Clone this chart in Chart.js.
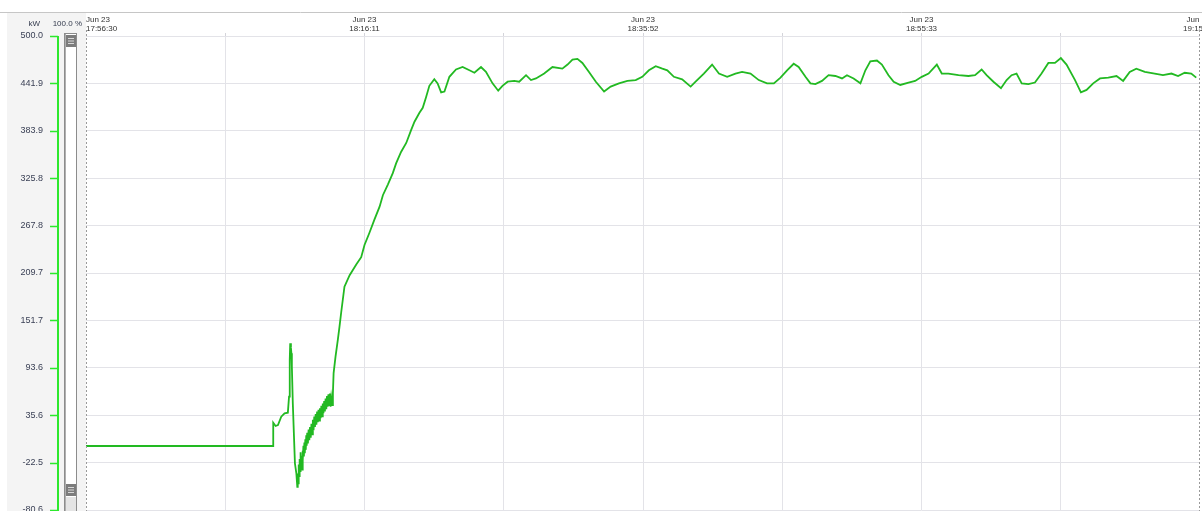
<!DOCTYPE html>
<html>
<head>
<meta charset="utf-8">
<script src="https://cdn.jsdelivr.net/npm/chart.js@4/dist/chart.umd.min.js"></script>
<style>
  html, body { margin: 0; padding: 0; background: #ffffff; overflow: hidden; }
  #wrap { position: relative; width: 1202px; height: 511px; }
</style>
</head>
<body>
<div id="wrap"><canvas id="c" width="1202" height="511"></canvas></div>
<script>
// ---- data (seconds elapsed since Jun 23 17:56:30, power in kW) ----
const elapsedSec = [
  0, 793, 794, 804, 814, 828, 842, 856, 861, 864, 866, 869, 871, 873, 877, 882, 886, 892, 896,
  898, 900, 902, 904, 906, 908, 910, 912, 914, 916, 918, 920, 922, 924, 926, 928, 930, 932, 934, 936, 938,
  941, 944, 947, 950, 953, 956, 959, 962, 965, 968, 971, 974, 977, 980, 983, 986, 989, 992, 995, 998,
  1001, 1004, 1007, 1010, 1013, 1016, 1019, 1022, 1025, 1028, 1031, 1034, 1037, 1040, 1044, 1047,
  1050, 1058, 1068, 1075, 1082, 1096, 1118, 1146, 1167, 1181, 1202, 1223, 1245, 1259, 1280, 1301, 1315,
  1336, 1358, 1379, 1393, 1414, 1428, 1442, 1456, 1477, 1491, 1506, 1520, 1541, 1569, 1597, 1626, 1647,
  1675, 1696, 1724, 1748, 1766, 1788, 1816, 1837, 1866, 1887, 1908, 1943, 1978, 2020, 2042, 2063, 2084,
  2105, 2133, 2162, 2197, 2225, 2260, 2296, 2331, 2359, 2387, 2416, 2444, 2465, 2493, 2528, 2564, 2585,
  2620, 2655, 2684, 2719, 2754, 2782, 2818, 2853, 2888, 2917, 2945, 2973, 3001, 3022, 3051, 3072, 3093,
  3121, 3149, 3178, 3206, 3227, 3255, 3284, 3305, 3326, 3354, 3375, 3403, 3425, 3453, 3488, 3516, 3544,
  3573, 3608, 3629, 3657, 3700, 3742, 3770, 3798, 3819, 3848, 3880, 3904, 3925, 3946, 3968, 3996, 4024,
  4052, 4081, 4109, 4134, 4158, 4194, 4219, 4243, 4271, 4300, 4335, 4370, 4398, 4426, 4454, 4490, 4532,
  4567, 4603, 4631, 4659, 4687, 4708
];
const powerKW = [
  -2.2, -2.2, 26.3, 22.3, 23.5, 33.7, 37.8, 38.6, 58.2, 103.1, 123.6, 118, 111.3, 94.9, 50.1, 9.2, -23.4, -35.6, -52.1,
  -36, -48, -25, -39, -18, -33, -10, -27, -14, -31, -8, -20, -2, -15, 2, -11, 6, -7, 11, -2, 14,
  1, 18, 5, 21, 8, 25, 12, 30, 17, 34, 21, 37, 24, 40, 27, 42, 29, 44, 32, 47,
  34, 50, 38, 53, 40, 56, 43, 59, 46, 61, 48, 62, 46, 57, 48, 62,
  87, 107, 128, 144, 161, 193, 207, 220, 229, 244, 259, 275, 291, 305, 318, 332, 344,
  358, 369, 385, 395, 406, 412, 425, 439, 447, 442, 431, 432, 450, 459, 462, 458, 455,
  462, 456, 442, 433, 439, 444, 445, 444, 452, 446, 448, 454, 462, 460, 465, 471, 472,
  467, 456, 444, 432, 438, 442, 445, 446, 450, 458, 463, 460, 458, 450, 447, 438, 444,
  454, 465, 454, 450, 454, 456, 454, 446, 442, 442, 449, 458, 466, 462, 450, 442, 441,
  445, 452, 451, 448, 452, 448, 442, 458, 469, 470, 465, 452, 444, 440, 443, 445, 450,
  454, 465, 454, 454, 452, 451, 452, 459, 452, 444, 436, 446, 452, 454, 442, 441, 443,
  454, 467, 467, 473, 465, 446, 431, 434, 442, 448, 449, 451, 445, 456, 460, 456, 454,
  452, 454, 451, 455, 454, 449
];
// ---- axis ticks ----
const yTickValues = [500.0, 441.9, 383.9, 325.8, 267.8, 209.7, 151.7, 93.6, 35.6, -22.5, -80.6];
const yTickLabels = ['500.0', '441.9', '383.9', '325.8', '267.8', '209.7', '151.7', '93.6', '35.6', '-22.5', '-80.6'];
const xTickSec = [0, 590.5, 1181, 1771.5, 2362, 2952.5, 3543, 4133.5, 4718, 5400];
const xTickLabels = [
  ['Jun 23', '17:56:30'], '', ['Jun 23', '18:16:11'], '', ['Jun 23', '18:35:52'], '',
  ['Jun 23', '18:55:33'], '', ['Jun 23', '19:15:14'], ''
];
const unitLabel = 'kW';
const zoomLabel = '100.0 %';

const points = elapsedSec.map((t, i) => ({ x: t, y: powerKW[i] }));

Chart.defaults.font.family = '"Liberation Sans", Arial, sans-serif';

const decor = {
  id: 'decor',
  beforeDraw(chart) {
    const ctx = chart.ctx;
    ctx.save();
    ctx.fillStyle = '#ffffff';
    ctx.fillRect(0, 0, chart.width, chart.height);
    ctx.fillStyle = '#f4f4f4';
    ctx.fillRect(7, 13, 79, chart.height - 13);
    ctx.strokeStyle = '#c6c6c6';
    ctx.lineWidth = 1;
    ctx.beginPath();
    ctx.moveTo(0, 12.5);
    ctx.lineTo(chart.width, 12.5);
    ctx.stroke();
    ctx.restore();
  },
  afterDraw(chart) {
    const ctx = chart.ctx;
    const ca = chart.chartArea;
    const ys = chart.scales.y;
    ctx.save();
    // dotted borders of the plot
    ctx.strokeStyle = '#9a9a9a';
    ctx.lineWidth = 1;
    ctx.setLineDash([2, 2]);
    [ca.left + 0.5, ca.right - 0.5].forEach(x => {
      ctx.beginPath();
      ctx.moveTo(x, 30);
      ctx.lineTo(x, chart.height);
      ctx.stroke();
    });
    ctx.setLineDash([]);
    // green value axis
    ctx.strokeStyle = '#2de82d';
    ctx.lineWidth = 2;
    ctx.beginPath();
    ctx.moveTo(58, ys.getPixelForValue(yTickValues[0]));
    ctx.lineTo(58, chart.height);
    ctx.stroke();
    yTickValues.forEach(v => {
      const py = Math.round(ys.getPixelForValue(v)) + 0.5;
      ctx.lineWidth = 1.5;
      ctx.beginPath();
      ctx.moveTo(50, py);
      ctx.lineTo(58, py);
      ctx.stroke();
    });
    // scrollbar
    ctx.fillStyle = '#ffffff';
    ctx.fillRect(65, 34, 11, chart.height - 34);
    ctx.strokeStyle = '#8c8c8c';
    ctx.lineWidth = 1;
    ctx.strokeRect(64.5, 33.5, 12, chart.height);
    ctx.strokeStyle = '#b0b0b0';
    ctx.beginPath();
    ctx.moveTo(65.5, 34); ctx.lineTo(65.5, chart.height);
    ctx.stroke();
    ctx.fillStyle = '#e4e4e4';
    ctx.fillRect(66, 497, 10, chart.height - 497);
    [35, 484].forEach(top => {
      ctx.fillStyle = '#7c7c7c';
      ctx.fillRect(66, top, 10, 12);
      ctx.strokeStyle = '#d8d8d8';
      ctx.lineWidth = 1;
      [3.5, 6, 8.5].forEach(d => {
        ctx.beginPath();
        ctx.moveTo(68, top + d);
        ctx.lineTo(74, top + d);
        ctx.stroke();
      });
    });
    // unit + zoom texts
    ctx.fillStyle = '#333a4d';
    ctx.font = '8px "Liberation Sans", Arial, sans-serif';
    ctx.textBaseline = 'middle';
    ctx.textAlign = 'right';
    ctx.fillText(unitLabel, 40, 24);
    ctx.fillText(zoomLabel, 82, 24);
    ctx.restore();
  }
};

const hidden = 'rgba(0,0,0,0)';

new Chart(document.getElementById('c'), {
  type: 'line',
  data: {
    datasets: [{
      data: points,
      borderColor: '#22b922',
      borderWidth: 1.8,
      pointRadius: 0,
      tension: 0,
      fill: false
    }]
  },
  options: {
    responsive: false,
    devicePixelRatio: 1,
    animation: false,
    parsing: true,
    layout: { padding: { top: 12, left: 0, right: 2, bottom: 1 } },
    plugins: { legend: { display: false }, tooltip: { enabled: false } },
    scales: {
      x: {
        type: 'linear',
        position: 'top',
        min: 0,
        max: 4724,
        border: { display: false },
        grid: {
          color: ctx => (ctx.index === 0 || ctx.index >= 8) ? hidden : '#e3e3e8',
          tickColor: ctx => (ctx.index === 0 || ctx.index >= 8) ? hidden : '#d4d4da',
          tickLength: 3,
          lineWidth: 1
        },
        ticks: {
          autoSkip: false,
          maxRotation: 0,
          minRotation: 0,
          align: 'inner',
          padding: 0,
          color: '#333333',
          font: { size: 8, lineHeight: 1.1 },
          callback: (v, i) => xTickLabels[i]
        },
        afterBuildTicks: s => { s.ticks = xTickSec.map(v => ({ value: v })); },
        afterFit: s => { s.height = 24; s.paddingLeft = 0; s.paddingRight = 0; }
      },
      y: {
        type: 'linear',
        position: 'left',
        min: -80.6,
        max: 500,
        border: { display: false },
        grid: { color: '#e3e3e8', drawTicks: false, lineWidth: 1 },
        ticks: {
          autoSkip: false,
          padding: 43,
          color: '#3b4156',
          font: { size: 9 },
          callback: (v, i) => yTickLabels[i]
        },
        afterBuildTicks: s => { s.ticks = yTickValues.map(v => ({ value: v })); },
        afterFit: s => { s.width = 86; s.paddingTop = 0; s.paddingBottom = 0; }
      }
    }
  },
  plugins: [decor]
});
</script>
</body>
</html>
